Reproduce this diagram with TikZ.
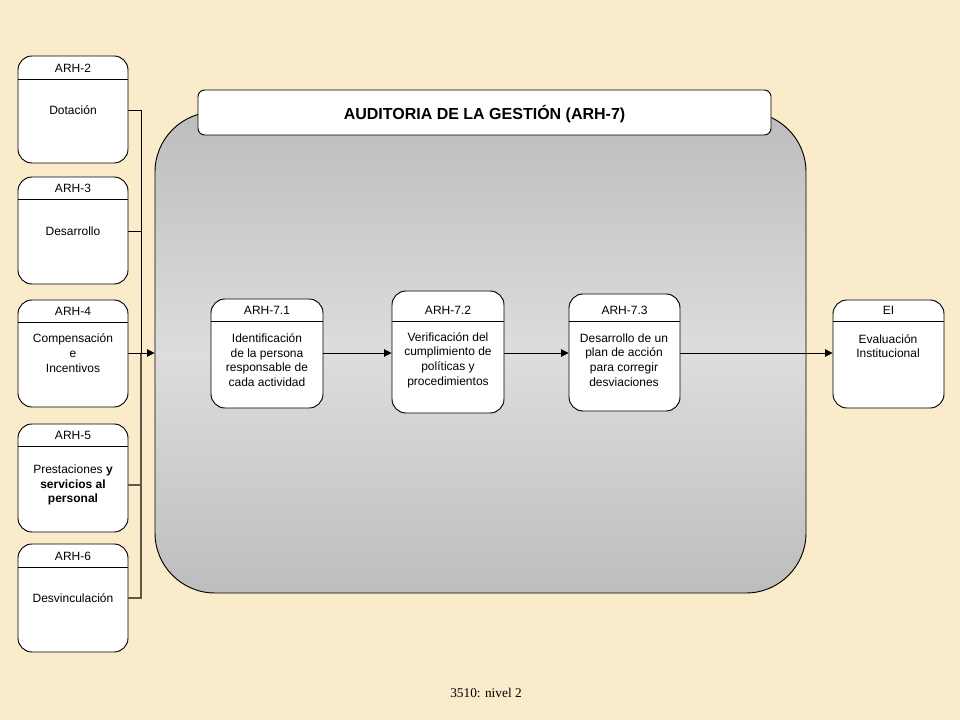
\documentclass[tikz,border=0pt]{standalone}
\usepackage{fontspec}
\setmainfont{Liberation Sans}
\newfontfamily\seriffont{Liberation Serif}
\usetikzlibrary{positioning,fit,calc,arrows.meta}

\definecolor{parchment}{RGB}{250,235,202}
\definecolor{panelgray}{RGB}{189,189,189}
\definecolor{panellight}{RGB}{221,221,221}
\definecolor{wire}{RGB}{98,87,70}

% a box: name, x1, y1, x2, y2, divider, code
\newcommand{\actbox}[7]{%
  \node[box, fit={(#2,#3) (#4,#5)}] (#1) {};
  \draw (#2,#6) -- (#4,#6);
  \node[tag] (#1-tag) at ($(#2,#6)!0.5!(#4,#6) + (0,-10.5)$) {#7};
}

\begin{document}
\begin{tikzpicture}[
      x=0.75pt, y=-0.75pt, line width=0.7pt,
      box/.style = {draw, fill=white, rounded corners=10.5pt, inner sep=0pt},
      panel/.style = {draw, rounded corners=45pt, inner sep=0pt,
        top color=panelgray, bottom color=panelgray, middle color=panellight},
      title/.style = {draw, fill=white, rounded corners=5pt, inner sep=0pt},
      titletxt/.style = {font=\bfseries\fontsize{12}{14}\selectfont},
      tag/.style = {font=\fontsize{9}{11}\selectfont},
      txt/.style = {font=\fontsize{9}{11}\selectfont, align=center},
      link/.style = {-{Triangle[length=5.5pt,width=5.5pt]}},
      ]
      \fill[parchment] (0,0) rectangle (960,720);
      \useasboundingbox (0,0) rectangle (960,720);

      % main panel
      \node[panel, fit={(155,112) (806,593)}] (audit) {};
      \node[title, fit={(198,90) (771,135)}] (head) {};
      \node[titletxt] (headtxt) at ($(head.center) + (0,1.5)$) {AUDITORIA DE LA GESTIÓN (ARH-7)};

      % inputs
      \actbox{arh2}{18}{56}{128}{163}{79}{ARH-2}
      \node[txt] (d2) at (73,110) {Dotación};
      \actbox{arh3}{18}{177}{128}{284}{199}{ARH-3}
      \node[txt] (d3) at (73,231) {Desarrollo};
      \actbox{arh4}{18}{300}{128}{407}{322}{ARH-4}
      \node[txt] (d4) at (73,353) {Compensación\\e\\Incentivos};
      \actbox{arh5}{18}{424}{128}{532}{446}{ARH-5}
      \node[txt] (d5) at (73,485) {Prestaciones \textbf{y}\\\textbf{servicios al}\\\textbf{personal}};
      \actbox{arh6}{18}{544}{128}{652}{567}{ARH-6}
      \node[txt] (d6) at (73,598) {Desvinculación};

      % steps
      \actbox{p1}{211}{299}{323}{408}{321}{ARH-7.1}
      \node[txt] (s1) at (267,360) {Identificación\\de la persona\\responsable de\\cada actividad};
      \actbox{p2}{392}{291}{504}{413}{321}{ARH-7.2}
      \node[txt] (s2) at (448,360) {Verificación del\\cumplimiento de\\políticas y\\procedimientos};
      \actbox{p3}{569}{294}{680}{411}{321}{ARH-7.3}
      \node[txt] (s3) at (624,360) {Desarrollo de un\\plan de acción\\para corregir\\desviaciones};
      \actbox{ei}{833}{300}{944}{408}{321}{EI}
      \node[txt] (e1) at (888,346) {Evaluación\\Institucional};

      \node[font=\seriffont\fontsize{10}{12}\selectfont] (foot) at (486,693) {3510: nivel 2};

      % connectors
      \coordinate (bus) at (141,353);
      \draw (arh2.east |- d2) -- (bus |- d2) -- (bus |- d4);
      \draw (arh3.east |- d3) -- (bus |- d3);
      \draw[wire, line width=1.1pt] (arh5.east |- d5) -- (bus |- d5);
      \draw[wire, line width=1.1pt] (arh6.east |- d6) -- (bus |- d6) -- (bus |- d4);
      \draw[link] (arh4.east |- d4) -- (audit.west |- d4);

      \draw[link] (p1.east |- bus) -- (p2.west |- bus);
      \draw[link] (p2.east |- bus) -- (p3.west |- bus);
      \draw[link] (p3.east |- bus) -- (ei.west |- bus);
    \end{tikzpicture}
\end{document}
